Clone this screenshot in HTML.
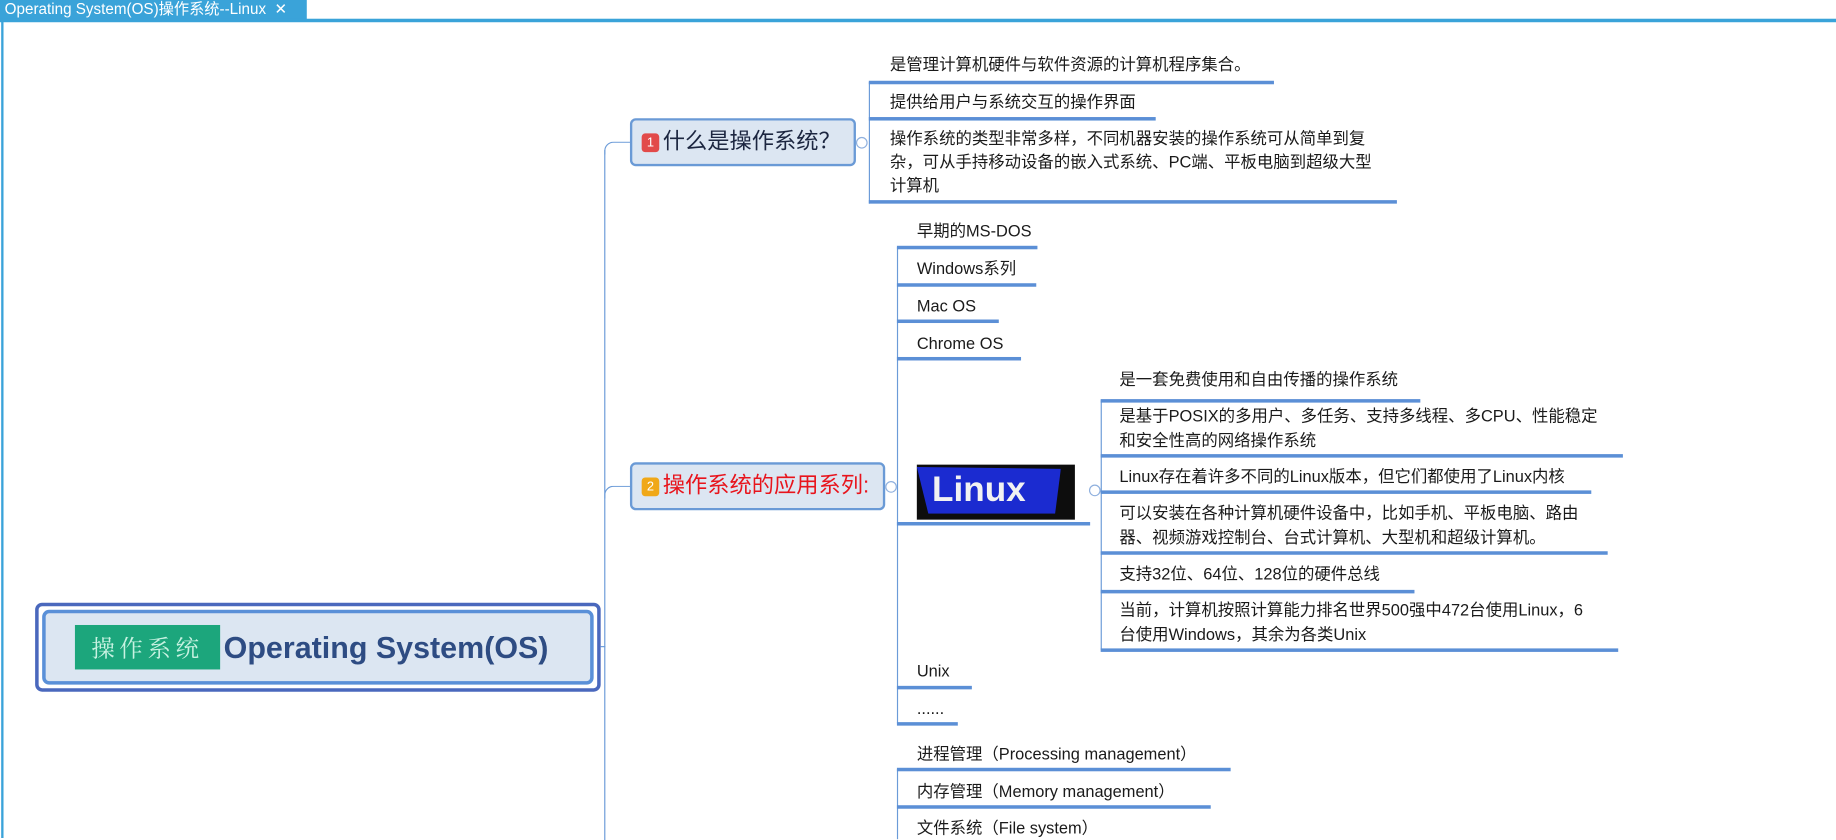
<!DOCTYPE html>
<html><head><meta charset="utf-8"><style>
html,body{margin:0;padding:0;width:1836px;height:838px;overflow:hidden;background:#fff}
#w{position:absolute;left:0;top:0;width:1568px;height:716px;transform:scale(1.17092,1.17039);transform-origin:0 0;font-family:"Liberation Sans","Noto Sans CJK SC",sans-serif;color:#1a1a1a}
.t{position:absolute;font-size:14px;line-height:21px;white-space:nowrap}
.u{position:absolute;height:3px;background:#5b8fd6}
.v{position:absolute;width:1px;background:#6b9bd8}
.h{position:absolute;height:1px;background:#6b9bd8}
.c{position:absolute;width:8px;height:8px;border:1px solid #8fb0de;border-radius:50%;background:#fff}
</style></head><body><div id="w">
<div style="position:absolute;left:0;top:0;width:262px;height:17px;background:#3aa3d9;color:#fff;font-size:13px;line-height:16px;padding-left:4px;box-sizing:border-box">Operating System(OS)操作系统--Linux&nbsp;&nbsp;✕</div>
<div style="position:absolute;left:0;top:16px;width:1568px;height:3px;background:#3aa3d9"></div>
<div style="position:absolute;left:1px;top:18px;width:2px;height:698px;background:#3aa3d9"></div>

<!-- root -->
<div style="position:absolute;left:30px;top:515px;width:483px;height:76px;border:3px solid #4a68bd;border-radius:6px;box-sizing:border-box;background:#fff"></div>
<div style="position:absolute;left:36px;top:521px;width:471px;height:64px;border:3px solid #5a90d8;border-radius:6px;box-sizing:border-box;background:#dce6f2"></div>
<div style="position:absolute;left:64px;top:534px;width:124px;height:38px;background:#1ca67c;color:#c9f2e2;font-size:20px;line-height:38px;text-align:center;letter-spacing:4px;font-family:'Noto Serif CJK SC',serif">操作系统</div>
<div style="position:absolute;left:191px;top:535px;font-size:26px;font-weight:bold;color:#2e4c83;line-height:36px">Operating System(OS)</div>

<!-- trunk -->
<div class="h" style="left:513px;top:552px;width:4px"></div>
<div class="v" style="left:516px;top:128px;height:590px"></div>
<div style="position:absolute;left:516px;top:121px;width:22px;height:10px;border-left:1px solid #6b9bd8;border-top:1px solid #6b9bd8;border-top-left-radius:8px"></div>
<div style="position:absolute;left:516px;top:415px;width:22px;height:10px;border-left:1px solid #6b9bd8;border-top:1px solid #6b9bd8;border-top-left-radius:8px"></div>

<!-- node1 -->
<div style="position:absolute;left:538px;top:101px;width:193px;height:41px;border:2px solid #6a9ad6;border-radius:5px;box-sizing:border-box;background:#dce6f2"></div>
<div style="position:absolute;left:548px;top:114px;width:15px;height:16px;background:#e24a4a;border-radius:3px;color:#fff;font-size:11px;line-height:16px;text-align:center">1</div>
<div style="position:absolute;left:566px;top:110px;font-size:19px;line-height:24px;color:#1c2640">什么是操作系统？</div>
<div class="c" style="left:731px;top:117px"></div>
<div class="v" style="left:742px;top:70px;height:104px"></div>
<div class="t" style="left:760px;top:45px">是管理计算机硬件与软件资源的计算机程序集合。</div>
<div class="u" style="left:742px;top:69px;width:346px"></div>
<div class="t" style="left:760px;top:77px">提供给用户与系统交互的操作界面</div>
<div class="u" style="left:742px;top:100px;width:245px"></div>
<div class="t" style="left:760px;top:108px;line-height:20px">操作系统的类型非常多样，不同机器安装的操作系统可从简单到复<br>杂，可从手持移动设备的嵌入式系统、PC端、平板电脑到超级大型<br>计算机</div>
<div class="u" style="left:742px;top:171px;width:451px"></div>

<!-- node2 -->
<div style="position:absolute;left:538px;top:395px;width:218px;height:41px;border:2px solid #6a9ad6;border-radius:5px;box-sizing:border-box;background:#dce6f2"></div>
<div style="position:absolute;left:548px;top:408px;width:15px;height:16px;background:#f0a818;border-radius:3px;color:#fff;font-size:11px;line-height:16px;text-align:center">2</div>
<div style="position:absolute;left:566px;top:404px;font-size:19px;line-height:24px;color:#e8141c">操作系统的应用系列:</div>
<div class="c" style="left:756px;top:411px"></div>
<div class="v" style="left:766px;top:211px;height:407px"></div>
<div class="t" style="left:783px;top:187px">早期的MS-DOS</div>
<div class="u" style="left:766px;top:210px;width:120px"></div>
<div class="t" style="left:783px;top:219px">Windows系列</div>
<div class="u" style="left:766px;top:242px;width:119px"></div>
<div class="t" style="left:783px;top:251px">Mac OS</div>
<div class="u" style="left:766px;top:273px;width:87px"></div>
<div class="t" style="left:783px;top:283px">Chrome OS</div>
<div class="u" style="left:766px;top:305px;width:106px"></div>
<div style="position:absolute;left:783px;top:397px;width:135px;height:47px;background:#0d0d0d"></div>
<div style="position:absolute;left:783px;top:399px;width:123px;height:40px;background:#1b2bd0;clip-path:polygon(0 0,100% 4%,96% 100%,8% 100%)"></div>
<div style="position:absolute;left:796px;top:398px;font-size:30px;font-weight:bold;color:#f2f2f2;line-height:42px">Linux</div>
<div class="u" style="left:766px;top:446px;width:165px"></div>
<div class="c" style="left:930px;top:414px"></div>
<div class="t" style="left:783px;top:563px">Unix</div>
<div class="u" style="left:766px;top:586px;width:64px"></div>
<div class="t" style="left:783px;top:595px">......</div>
<div class="u" style="left:766px;top:617px;width:52px"></div>

<!-- linux children -->
<div class="v" style="left:940px;top:342px;height:213px"></div>
<div class="t" style="left:956px;top:314px">是一套免费使用和自由传播的操作系统</div>
<div class="u" style="left:940px;top:341px;width:273px"></div>
<div class="t" style="left:956px;top:345px">是基于POSIX的多用户、多任务、支持多线程、多CPU、性能稳定<br>和安全性高的网络操作系统</div>
<div class="u" style="left:940px;top:388px;width:446px"></div>
<div class="t" style="left:956px;top:397px">Linux存在着许多不同的Linux版本，但它们都使用了Linux内核</div>
<div class="u" style="left:940px;top:419px;width:419px"></div>
<div class="t" style="left:956px;top:428px">可以安装在各种计算机硬件设备中，比如手机、平板电脑、路由<br>器、视频游戏控制台、台式计算机、大型机和超级计算机。</div>
<div class="u" style="left:940px;top:471px;width:433px"></div>
<div class="t" style="left:956px;top:480px">支持32位、64位、128位的硬件总线</div>
<div class="u" style="left:940px;top:504px;width:268px"></div>
<div class="t" style="left:956px;top:511px">当前，计算机按照计算能力排名世界500强中472台使用Linux，6<br>台使用Windows，其余为各类Unix</div>
<div class="u" style="left:940px;top:554px;width:442px"></div>

<!-- branch 3 -->
<div class="v" style="left:766px;top:657px;height:60px"></div>
<div class="t" style="left:783px;top:634px">进程管理（Processing management）</div>
<div class="u" style="left:766px;top:656px;width:285px"></div>
<div class="t" style="left:783px;top:666px">内存管理（Memory management）</div>
<div class="u" style="left:766px;top:688px;width:268px"></div>
<div class="t" style="left:783px;top:697px">文件系统（File system）</div>
</div></body></html>
